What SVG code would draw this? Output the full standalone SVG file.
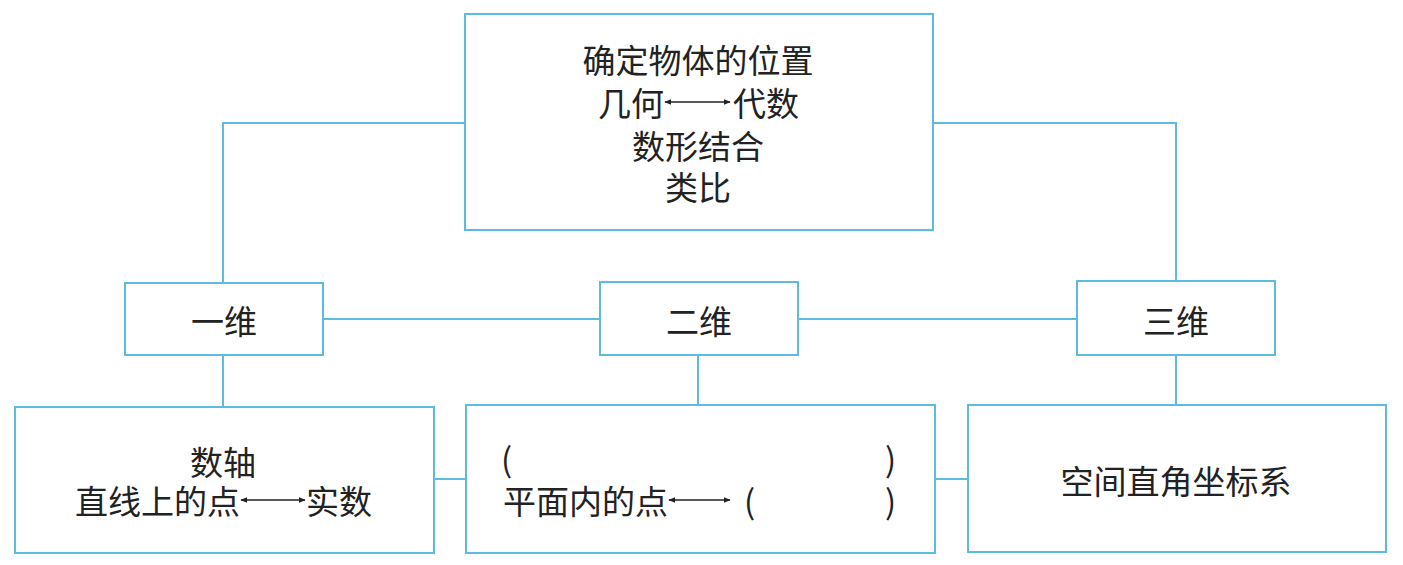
<svg xmlns="http://www.w3.org/2000/svg" width="1403" height="565" viewBox="0 0 1403 565">
<style>
.box{fill:#fff;stroke:#5bbbe0;stroke-width:2}
.ln{fill:none;stroke:#5bbbe0;stroke-width:2}
text{font-family:"Noto Sans CJK SC","Liberation Sans",sans-serif;font-size:33px;fill:#222;dominant-baseline:central}
.c{text-anchor:middle}
.ar{fill:none;stroke:#222;stroke-width:1.6}
</style>
<defs>
<marker id="ah" viewBox="0 0 10 10" refX="9" refY="5" markerWidth="7" markerHeight="7" markerUnits="userSpaceOnUse" orient="auto-start-reverse"><path d="M0,1 L10,5 L0,9 z" fill="#222"/></marker>
</defs>
<rect width="1403" height="565" fill="#fff"/>
<g id="connectors">
<path class="ln" d="M465,123 H223 V282"/>
<path class="ln" d="M933,123 H1176 V281"/>
<path class="ln" d="M323,319 H600"/>
<path class="ln" d="M798,319 H1077"/>
<path class="ln" d="M223,356 V407"/>
<path class="ln" d="M698,355 V405"/>
<path class="ln" d="M1176,355 V405"/>
<path class="ln" d="M434,479 H466"/>
<path class="ln" d="M935,479 H968"/>
</g>
<g id="top">
<rect class="box" x="465" y="14" width="468" height="216"/>
<text class="c" x="698" y="59">确定物体的位置</text>
<text x="598" y="102">几何</text>
<path class="ar" d="M665,102 H730" marker-start="url(#ah)" marker-end="url(#ah)"/>
<text x="733" y="102">代数</text>
<text class="c" x="698" y="145">数形结合</text>
<text class="c" x="698" y="186">类比</text>
</g>
<g id="dim1">
<rect class="box" x="125" y="283" width="198" height="72"/>
<text class="c" x="224" y="320">一维</text>
</g>
<g id="dim2">
<rect class="box" x="600" y="282" width="198" height="73"/>
<text class="c" x="699" y="320">二维</text>
</g>
<g id="dim3">
<rect class="box" x="1077" y="281" width="198" height="74"/>
<text class="c" x="1176" y="320">三维</text>
</g>
<g id="b1">
<rect class="box" x="15" y="407" width="419" height="146"/>
<text class="c" x="223" y="461">数轴</text>
<text x="75" y="500">直线上的点</text>
<path class="ar" d="M241,500 H305" marker-start="url(#ah)" marker-end="url(#ah)"/>
<text x="306" y="500">实数</text>
</g>
<g id="b2">
<rect class="box" x="466" y="405" width="469" height="148"/>
<text x="501" y="458">(</text>
<text x="885" y="458">)</text>
<text x="503" y="500">平面内的点</text>
<path class="ar" d="M669,500 H730" marker-start="url(#ah)" marker-end="url(#ah)"/>
<text x="744" y="500">(</text>
<text x="885" y="500">)</text>
</g>
<g id="b3">
<rect class="box" x="968" y="405" width="418" height="147"/>
<text class="c" x="1176" y="480">空间直角坐标系</text>
</g>
</svg>
